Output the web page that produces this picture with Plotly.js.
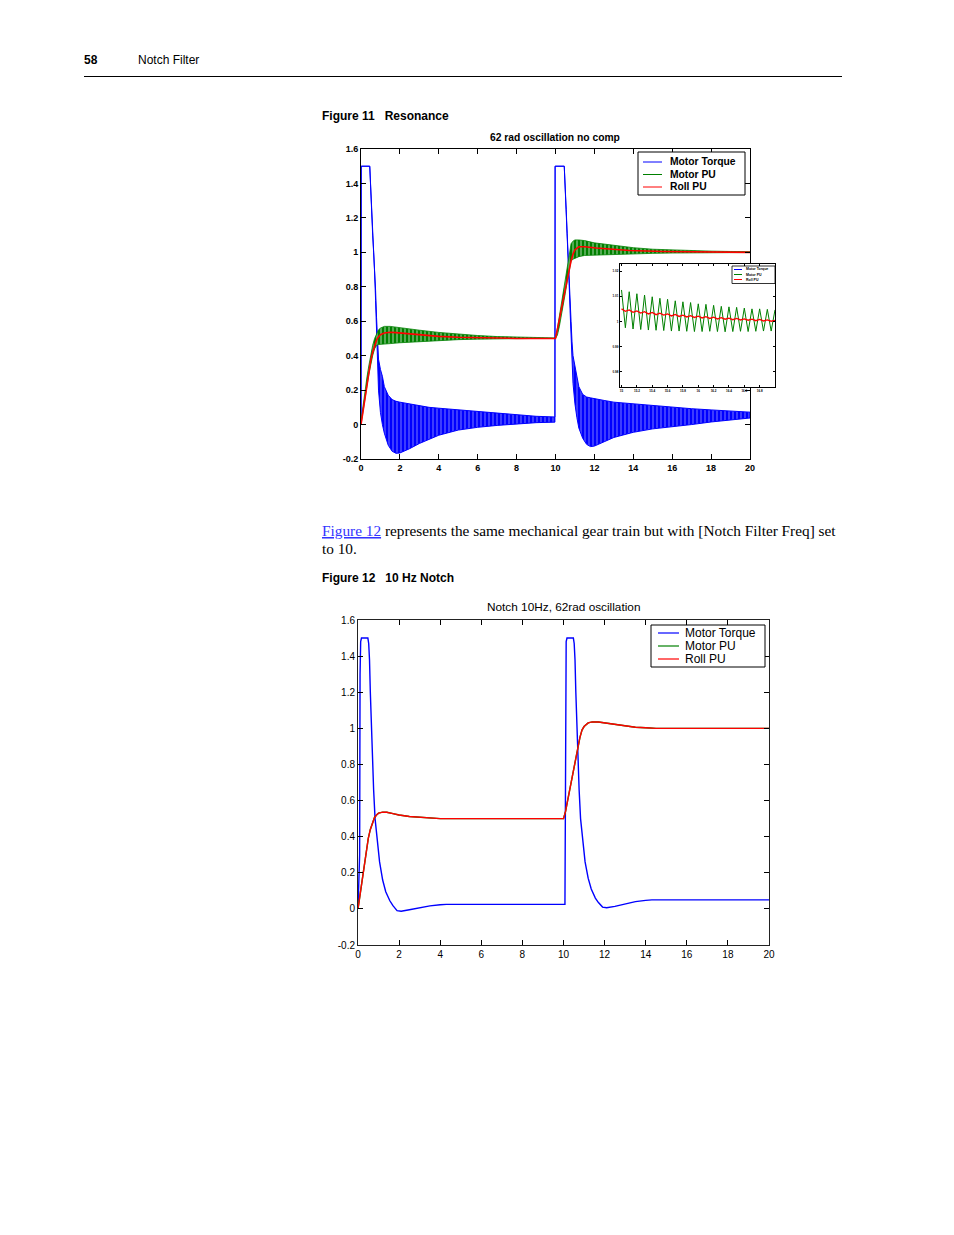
<!DOCTYPE html>
<html>
<head>
<meta charset="utf-8">
<script src="https://cdn.plot.ly/plotly-3.0.1.min.js"></script>
<style>
html,body{margin:0;padding:0;background:#fff;}
#page{width:954px;height:1235px;}
</style>
</head>
<body>
<div id="page"></div>
<script>
// ---------------- DATA ----------------
const seriesNames = ['Motor Torque', 'Motor PU', 'Roll PU'];

// Figure 11: "62 rad oscillation no comp"  (oscillating signals read as upper/lower envelopes)
const f11TorqueT  = [0, 0.01, 0.45, 0.5, 0.55, 0.6, 0.65, 0.7, 0.75, 0.8, 0.85, 0.9, 1.0, 1.1, 1.2, 1.4, 1.6, 1.8, 2.0, 2.5, 3.0, 3.5, 4.0, 5.0, 6.0, 7.0, 8.0, 9.0, 9.97,
                     9.98, 10.45, 10.5, 10.55, 10.6, 10.65, 10.7, 10.75, 10.8, 10.85, 10.9, 11.0, 11.1, 11.2, 11.4, 11.6, 11.8, 12.0, 12.5, 13.0, 14.0, 15.0, 16.0, 17.0, 18.0, 19.0, 20.0];
const f11TorqueHi = [0, 1.5, 1.5, 1.32, 1.2, 1.1, 1.0, 0.9, 0.78, 0.62, 0.46, 0.38, 0.32, 0.28, 0.22, 0.17, 0.145, 0.135, 0.13, 0.12, 0.11, 0.1, 0.095, 0.085, 0.075, 0.065, 0.055, 0.048, 0.044,
                     1.5, 1.5, 1.4, 1.25, 1.11, 0.96, 0.84, 0.72, 0.6, 0.48, 0.4, 0.34, 0.28, 0.22, 0.175, 0.16, 0.155, 0.15, 0.14, 0.13, 0.12, 0.11, 0.1, 0.092, 0.085, 0.078, 0.072];
const f11TorqueLo = [0, 1.5, 1.5, 1.32, 1.2, 1.1, 1.0, 0.88, 0.72, 0.5, 0.34, 0.2, 0.07, 0.0, -0.05, -0.12, -0.155, -0.167, -0.165, -0.14, -0.11, -0.085, -0.062, -0.032, -0.016, -0.005, 0.004, 0.011, 0.014,
                     1.5, 1.5, 1.4, 1.25, 1.11, 0.96, 0.82, 0.66, 0.5, 0.36, 0.24, 0.12, 0.04, -0.02, -0.08, -0.115, -0.128, -0.125, -0.1, -0.075, -0.045, -0.025, -0.012, 0.0, 0.015, 0.028, 0.038];

const f11MotorT  = [0, 0.1, 0.2, 0.3, 0.4, 0.5, 0.6, 0.7, 0.8, 0.9, 1.0, 1.2, 1.5, 2.0, 2.5, 3.0, 4.0, 5.0, 6.0, 7.0, 8.0, 9.0, 10.0,
                    10.1, 10.2, 10.3, 10.4, 10.5, 10.6, 10.7, 10.8, 10.9, 11.0, 11.2, 11.5, 12.0, 13.0, 14.0, 15.0, 16.0, 17.0, 18.0, 19.0, 20.0];
const f11MotorHi = [0.02, 0.11, 0.19, 0.27, 0.34, 0.41, 0.46, 0.5, 0.53, 0.55, 0.56, 0.57, 0.57, 0.562, 0.555, 0.548, 0.535, 0.525, 0.517, 0.511, 0.507, 0.504, 0.503,
                    0.56, 0.63, 0.7, 0.77, 0.85, 0.93, 1.0, 1.05, 1.065, 1.072, 1.072, 1.068, 1.055, 1.04, 1.027, 1.018, 1.013, 1.009, 1.007, 1.005, 1.004];
const f11MotorLo = [0.0, 0.06, 0.14, 0.22, 0.29, 0.35, 0.4, 0.44, 0.46, 0.465, 0.465, 0.468, 0.47, 0.475, 0.478, 0.482, 0.488, 0.493, 0.496, 0.498, 0.5, 0.5, 0.5,
                    0.52, 0.57, 0.63, 0.69, 0.76, 0.83, 0.9, 0.95, 0.96, 0.965, 0.975, 0.982, 0.986, 0.989, 0.991, 0.994, 0.996, 0.997, 0.998, 0.999, 0.999];

const f11RollT = [0, 0.1, 0.2, 0.3, 0.4, 0.5, 0.6, 0.7, 0.8, 0.9, 1.0, 1.2, 1.5, 1.8, 2.2, 3.0, 4.0, 5.0, 6.0, 7.0, 8.0, 10.0,
                  10.1, 10.2, 10.3, 10.4, 10.5, 10.6, 10.7, 10.8, 10.9, 11.0, 11.2, 11.5, 12.1, 13.0, 13.8, 15.5, 17.0, 18.0, 20.0];
const f11Roll  = [0, 0.08, 0.16, 0.24, 0.31, 0.37, 0.42, 0.46, 0.49, 0.51, 0.522, 0.532, 0.536, 0.534, 0.53, 0.52, 0.512, 0.507, 0.504, 0.502, 0.5, 0.5,
                  0.55, 0.61, 0.67, 0.73, 0.79, 0.85, 0.9, 0.95, 0.99, 1.015, 1.032, 1.032, 1.025, 1.016, 1.011, 1.005, 1.002, 1.0, 1.0];

// Figure 11 inset (zoom of the second plateau)
const insetT = [15.0, 15.05, 15.1, 15.15, 15.2, 15.25, 15.3, 15.35, 15.4, 15.45, 15.5, 15.55, 15.6, 15.65, 15.7, 15.75, 15.8, 15.85, 15.9, 15.95, 16.0,
                16.05, 16.1, 16.15, 16.2, 16.25, 16.3, 16.35, 16.4, 16.45, 16.5, 16.55, 16.6, 16.65, 16.7, 16.75, 16.8, 16.85, 16.9, 16.95, 17.0];
const insetMotor = [1.0125, 0.9975, 1.0118, 0.9970, 1.0110, 0.9968, 1.0105, 0.9966, 1.0098, 0.9965, 1.0092, 0.9964, 1.0088, 0.9962, 1.0082, 0.9962, 1.0078, 0.9961, 1.0075, 0.9960, 1.0070,
                    0.9960, 1.0068, 0.9961, 1.0064, 0.9960, 1.0060, 0.9959, 1.0058, 0.9960, 1.0056, 0.9961, 1.0053, 0.9960, 1.0050, 0.9961, 1.0050, 0.9962, 1.0048, 0.9962, 1.0046];
const insetRoll  = [1.0050, 1.0040, 1.0046, 1.0036, 1.0042, 1.0033, 1.0039, 1.0030, 1.0036, 1.0027, 1.0033, 1.0025, 1.0030, 1.0022, 1.0028, 1.0020, 1.0025, 1.0018, 1.0023, 1.0016, 1.0021,
                    1.0014, 1.0019, 1.0012, 1.0017, 1.0010, 1.0015, 1.0009, 1.0013, 1.0007, 1.0012, 1.0006, 1.0010, 1.0005, 1.0009, 1.0003, 1.0008, 1.0002, 1.0006, 1.0001, 1.0004];
const insetXTicks = [15, 15.2, 15.4, 15.6, 15.8, 16, 16.2, 16.4, 16.6, 16.8];
const insetXLabels = ['15', '15.2', '15.4', '15.6', '15.8', '16', '16.2', '16.4', '16.6', '16.8'];
const insetYTicks = [0.98, 0.99, 1, 1.01, 1.02];
const insetYLabels = ['0.98', '0.99', '1', '1.01', '1.02'];

// Figure 12: "Notch 10Hz, 62rad oscillation"
const f12TorqueT = [0, 0.08, 0.1, 0.13, 0.17, 0.48, 0.52, 0.56, 0.6, 0.65, 0.7, 0.76, 0.83, 0.9, 0.97, 1.05, 1.2, 1.35, 1.55, 1.7, 1.9, 2.1, 2.5, 3.0, 3.5, 4.0, 4.3,
                    10.07, 10.08, 10.1, 10.13, 10.17, 10.48, 10.52, 10.56, 10.6, 10.65, 10.7, 10.76, 10.83, 10.9, 10.97, 11.05, 11.2, 11.35, 11.55, 11.7, 11.9, 12.1, 12.5, 13.0, 13.5, 14.0, 14.3, 20.0];
const f12Torque  = [0, 0.3, 1.3, 1.48, 1.5, 1.5, 1.47, 1.38, 1.2, 1.0, 0.84, 0.66, 0.5, 0.41, 0.33, 0.26, 0.16, 0.095, 0.045, 0.018, -0.01, -0.013, -0.005, 0.008, 0.017, 0.023, 0.025,
                    0.025, 0.3, 1.3, 1.48, 1.5, 1.5, 1.47, 1.38, 1.2, 1.0, 0.84, 0.66, 0.5, 0.41, 0.33, 0.26, 0.17, 0.11, 0.06, 0.035, 0.01, 0.006, 0.014, 0.028, 0.04, 0.047, 0.05, 0.05];
const f12RollT = [0, 0.1, 0.2, 0.3, 0.4, 0.5, 0.6, 0.7, 0.8, 0.9, 1.0, 1.2, 1.4, 1.7, 2.0, 2.5, 3.0, 3.5, 4.0, 10.0,
                  10.1, 10.2, 10.3, 10.4, 10.5, 10.6, 10.7, 10.8, 10.9, 11.0, 11.2, 11.4, 11.7, 12.0, 12.5, 13.0, 13.5, 14.0, 14.5, 20.0];
const f12Roll  = [0, 0.08, 0.17, 0.25, 0.33, 0.39, 0.44, 0.48, 0.505, 0.52, 0.53, 0.536, 0.535, 0.528, 0.52, 0.512, 0.507, 0.503, 0.5, 0.5,
                  0.54, 0.6, 0.66, 0.72, 0.78, 0.84, 0.9, 0.95, 0.99, 1.01, 1.03, 1.036, 1.035, 1.03, 1.02, 1.012, 1.006, 1.003, 1.0, 1.0];
const f12Motor = f12Roll; // Motor PU lies exactly under Roll PU

const xTicks = [0, 2, 4, 6, 8, 10, 12, 14, 16, 18, 20];
const xLabels = ['0', '2', '4', '6', '8', '10', '12', '14', '16', '18', '20'];
const yTicks = [-0.2, 0, 0.2, 0.4, 0.6, 0.8, 1, 1.2, 1.4, 1.6];
const yLabels = ['-0.2', '0', '0.2', '0.4', '0.6', '0.8', '1', '1.2', '1.4', '1.6'];

// ---------------- DRAWING ----------------
const W = 954, H = 1235;
const px = x => x / W;
const py = y => 1 - y / H;
const BLUE = 'rgb(0,0,255)', GREEN = 'rgb(0,128,0)', RED = 'rgb(255,0,0)';
const seriesColors = [BLUE, GREEN, RED];
const SANS = '"Liberation Sans", Arial, Helvetica, sans-serif';
const SERIF = '"Liberation Serif", "Times New Roman", serif';

function band(t, hi, lo) {
  return { x: t.concat(t.slice().reverse()), y: hi.concat(lo.slice().reverse()) };
}
const tqBand = band(f11TorqueT, f11TorqueHi, f11TorqueLo);
const mpBand = band(f11MotorT, f11MotorHi, f11MotorLo);

const traces = [
  { x: tqBand.x, y: tqBand.y, xaxis: 'x', yaxis: 'y', mode: 'lines', fill: 'toself',
    fillcolor: BLUE, fillpattern: { shape: '|', fgcolor: BLUE, bgcolor: 'rgb(150,150,255)', size: 4, solidity: 0.8 },
    line: { color: BLUE, width: 1 }, name: seriesNames[0], hoverinfo: 'skip' },
  { x: mpBand.x, y: mpBand.y, xaxis: 'x', yaxis: 'y', mode: 'lines', fill: 'toself',
    fillcolor: GREEN, fillpattern: { shape: '|', fgcolor: GREEN, bgcolor: 'rgb(140,200,140)', size: 4, solidity: 0.7 },
    line: { color: GREEN, width: 0.8 }, name: seriesNames[1], hoverinfo: 'skip' },
  { x: f11RollT, y: f11Roll, xaxis: 'x', yaxis: 'y', mode: 'lines', line: { color: RED, width: 1.6 }, name: seriesNames[2] },

  { x: f12TorqueT, y: f12Torque, xaxis: 'x2', yaxis: 'y2', mode: 'lines', line: { color: BLUE, width: 1.4 }, name: seriesNames[0] },
  { x: f12RollT, y: f12Motor, xaxis: 'x2', yaxis: 'y2', mode: 'lines', line: { color: GREEN, width: 1.4 }, name: seriesNames[1] },
  { x: f12RollT, y: f12Roll, xaxis: 'x2', yaxis: 'y2', mode: 'lines', line: { color: RED, width: 1.4 }, name: seriesNames[2] },

  { x: insetT, y: insetMotor, xaxis: 'x3', yaxis: 'y3', mode: 'lines', line: { color: GREEN, width: 1 }, name: seriesNames[1] },
  { x: insetT, y: insetRoll, xaxis: 'x3', yaxis: 'y3', mode: 'lines', line: { color: RED, width: 1.3 }, name: seriesNames[2] }
];

function axis(domain, range, tv, tt, font, extra) {
  return Object.assign({
    domain: domain, range: range, tickmode: 'array', tickvals: tv, ticktext: tt,
    showgrid: false, zeroline: false, showline: true, mirror: 'ticks', linecolor: '#000', linewidth: 1,
    ticks: 'inside', ticklen: 5, tickwidth: 1, tickcolor: '#000', tickfont: font, fixedrange: true
  }, extra || {});
}
const f11Font = { family: SANS, size: 9, color: '#000', weight: 700 };
const f12Font = { family: SANS, size: 10, color: '#000' };
const insetFont = { family: SANS, size: 3, color: '#000', weight: 700 };

const annotations = [];
const shapes = [];
function txt(x, y, text, font, anchor) {
  annotations.push({ xref: 'paper', yref: 'paper', x: px(x), y: py(y), text: text, showarrow: false,
    xanchor: anchor || 'left', yanchor: 'middle', font: font, borderpad: 0 });
}
function hline(x0, x1, y, color, width) {
  shapes.push({ type: 'line', xref: 'paper', yref: 'paper', x0: px(x0), x1: px(x1), y0: py(y), y1: py(y),
    line: { color: color, width: width } });
}
function box(x0, y0, x1, y1, lw) {
  shapes.push({ type: 'rect', xref: 'paper', yref: 'paper', x0: px(x0), x1: px(x1), y0: py(y1), y1: py(y0),
    line: { color: '#000', width: lw || 1 }, fillcolor: '#fff', layer: 'above' });
}

// Page header / captions / body text
txt(83, 60, '<b>58</b>', { family: SANS, size: 12, color: '#000' });
txt(137, 60, 'Notch Filter', { family: SANS, size: 12, color: '#000' });
hline(84, 842, 76.5, '#000', 1);
txt(321, 116, 'Figure 11   Resonance', { family: SANS, size: 12, color: '#000', weight: 700 });
txt(321, 530, '<span style="color:#3333ff"><u>Figure 12</u></span> represents the same mechanical gear train but with [Notch Filter Freq] set',
    { family: SERIF, size: 15.3, color: '#000' });
txt(321, 548, 'to 10.', { family: SERIF, size: 15.3, color: '#000' });
txt(321, 578, 'Figure 12   10 Hz Notch', { family: SANS, size: 12, color: '#000', weight: 700 });

// Chart titles
txt(555, 137, '<b>62 rad oscillation no comp</b>', { family: SANS, size: 10.3, color: '#000' }, 'center');
txt(563, 607, 'Notch 10Hz, 62rad oscillation', { family: SANS, size: 11.8, color: '#000' }, 'center');

// Legends (drawn as boxes, sample lines and labels)
function legend(x0, y0, x1, y1, rows, lx0, lx1, tx, font, lw, bw) {
  box(x0, y0, x1, y1, bw);
  rows.forEach((ry, i) => {
    shapes.push({ type: 'line', xref: 'paper', yref: 'paper', x0: px(lx0), x1: px(lx1), y0: py(ry), y1: py(ry),
      line: { color: seriesColors[i], width: lw }, layer: 'above' });
    txt(tx, ry, seriesNames[i], font);
  });
}
legend(638, 152, 745, 195, [162, 174.5, 187], 643, 662, 669, { family: SANS, size: 10.3, color: '#000', weight: 700 }, 1, 1);
legend(651, 625, 765, 667, [633, 646, 659], 658, 679, 684, { family: SANS, size: 12, color: '#000' }, 1.2, 1);
legend(732, 266, 775, 283.5, [269.5, 274.5, 279.5], 734, 742, 745, { family: SANS, size: 3.5, color: '#000', weight: 700 }, 1, 0.8);

const layout = {
  width: W, height: H, margin: { l: 0, r: 0, t: 0, b: 0, pad: 0 },
  paper_bgcolor: '#fff', plot_bgcolor: '#fff', showlegend: false,
  xaxis:  axis([px(361), px(750)], [0, 20], xTicks, xLabels, f11Font, { anchor: 'y' }),
  yaxis:  axis([py(459), py(149)], [-0.2, 1.6], yTicks, yLabels, f11Font, { anchor: 'x' }),
  xaxis2: axis([px(358), px(769)], [0, 20], xTicks, xLabels, f12Font, { anchor: 'y2', linecolor: '#222' }),
  yaxis2: axis([py(945), py(620)], [-0.2, 1.6], yTicks, yLabels, f12Font, { anchor: 'x2', linecolor: '#222' }),
  xaxis3: axis([px(620), px(775)], [14.98, 17.0], insetXTicks, insetXLabels, insetFont, { anchor: 'y3', ticklen: 2 }),
  yaxis3: axis([py(387), py(264)], [0.974, 1.0228], insetYTicks, insetYLabels, insetFont, { anchor: 'x3', ticklen: 2 }),
  annotations: annotations,
  shapes: shapes
};

Plotly.newPlot('page', traces, layout, { staticPlot: true, displayModeBar: false });
</script>
</body>
</html>
